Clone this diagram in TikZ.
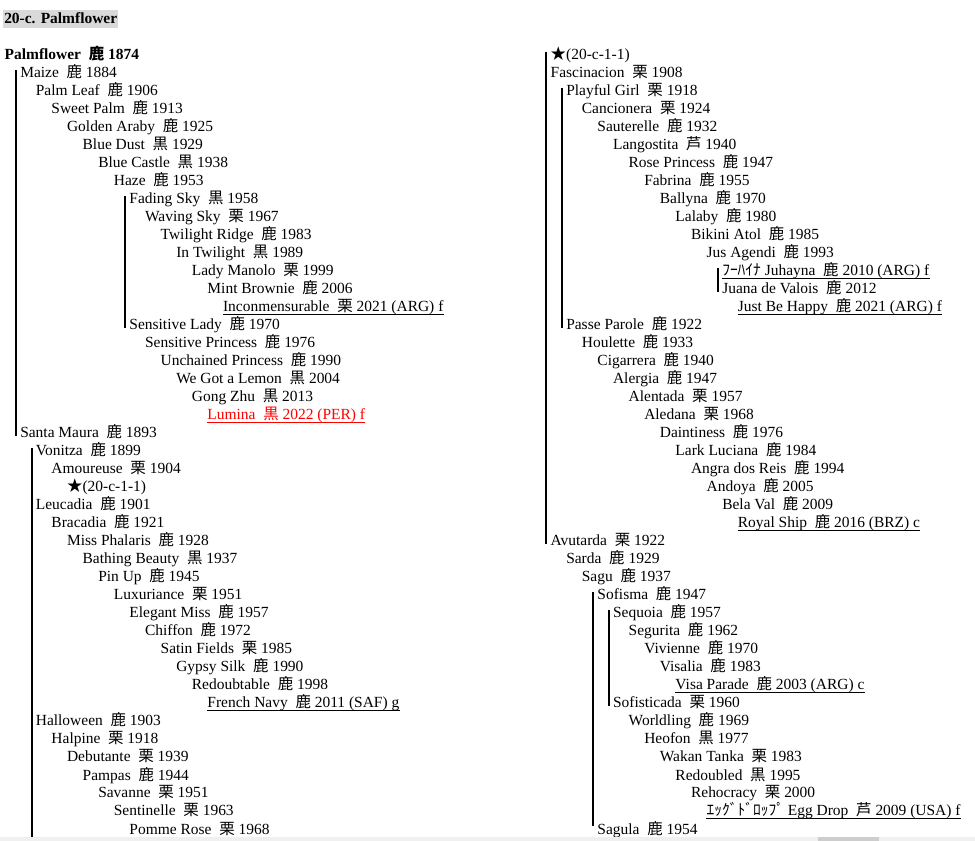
\documentclass[tikz,border=0pt]{standalone}
\usepackage{fontspec}
\setmainfont{Liberation Serif}
\newfontfamily\cjk{Noto Sans CJK JP}
\usepackage{tikz}
\newcommand{\kan}[1]{{\cjk #1}}
\definecolor{titlegray}{RGB}{217,217,217}
\definecolor{barlight}{RGB}{240,240,240}
\definecolor{bardark}{RGB}{205,205,205}

\begin{document}
\begin{tikzpicture}[x=11.7pt,y=-13.5pt,
	horse/.style={anchor=base west,inner sep=0pt,font=\fontsize{11.6}{14}\selectfont},
	bold/.style={horse,font=\fontsize{11.6}{14}\selectfont\bfseries},
	bar/.style={line width=1.5pt},
	uline/.style={line width=0.75pt},
	bartop/.style={shift={(-0.26,-0.45)}},
	barbot/.style={shift={(-0.26,-0.1)}}]
	\useasboundingbox (-0.282,-3.333) rectangle (62.218,43.389);
	% title
	\node[bold,fill=titlegray,inner xsep=0.75pt,inner ysep=0.75pt,text height=9.5pt,text depth=2.5pt] (title) at (-0.09,-2) {20-c. Palmflower};
	% left column
	\node[bold] (palmflower) at (0,0) {Palmflower~~\kan{鹿} 1874};
	\node[horse] (maize) at (1,1) {Maize~~\kan{鹿} 1884};
	\node[horse] (palmleaf) at (2,2) {Palm Leaf~~\kan{鹿} 1906};
	\node[horse] (sweetpalm) at (3,3) {Sweet Palm~~\kan{鹿} 1913};
	\node[horse] (goldenaraby) at (4,4) {Golden Araby~~\kan{鹿} 1925};
	\node[horse] (bluedust) at (5,5) {Blue Dust~~\kan{黒} 1929};
	\node[horse] (bluecastle) at (6,6) {Blue Castle~~\kan{黒} 1938};
	\node[horse] (haze) at (7,7) {Haze~~\kan{鹿} 1953};
	\node[horse] (fadingsky) at (8,8) {Fading Sky~~\kan{黒} 1958};
	\node[horse] (wavingsky) at (9,9) {Waving Sky~~\kan{栗} 1967};
	\node[horse] (twilightridge) at (10,10) {Twilight Ridge~~\kan{鹿} 1983};
	\node[horse] (intwilight) at (11,11) {In Twilight~~\kan{黒} 1989};
	\node[horse] (ladymanolo) at (12,12) {Lady Manolo~~\kan{栗} 1999};
	\node[horse] (mintbrownie) at (13,13) {Mint Brownie~~\kan{鹿} 2006};
	\node[horse] (incon) at (14,14) {Inconmensurable~~\kan{栗} 2021 (ARG) f};
	\node[horse] (sensitivelady) at (8,15) {Sensitive Lady~~\kan{鹿} 1970};
	\node[horse] (sensitiveprincess) at (9,16) {Sensitive Princess~~\kan{鹿} 1976};
	\node[horse] (unchained) at (10,17) {Unchained Princess~~\kan{鹿} 1990};
	\node[horse] (wegotalemon) at (11,18) {We Got a Lemon~~\kan{黒} 2004};
	\node[horse] (gongzhu) at (12,19) {Gong Zhu~~\kan{黒} 2013};
	\node[horse,text=red] (lumina) at (13,20) {Lumina~~\kan{黒} 2022 (PER) f};
	\node[horse] (santamaura) at (1,21) {Santa Maura~~\kan{鹿} 1893};
	\node[horse] (vonitza) at (2,22) {Vonitza~~\kan{鹿} 1899};
	\node[horse] (amoureuse) at (3,23) {Amoureuse~~\kan{栗} 1904};
	\node[horse] (starleft) at (4,24) {\kan{★}(20-c-1-1)};
	\node[horse] (leucadia) at (2,25) {Leucadia~~\kan{鹿} 1901};
	\node[horse] (bracadia) at (3,26) {Bracadia~~\kan{鹿} 1921};
	\node[horse] (missphalaris) at (4,27) {Miss Phalaris~~\kan{鹿} 1928};
	\node[horse] (bathingbeauty) at (5,28) {Bathing Beauty~~\kan{黒} 1937};
	\node[horse] (pinup) at (6,29) {Pin Up~~\kan{鹿} 1945};
	\node[horse] (luxuriance) at (7,30) {Luxuriance~~\kan{栗} 1951};
	\node[horse] (elegantmiss) at (8,31) {Elegant Miss~~\kan{鹿} 1957};
	\node[horse] (chiffon) at (9,32) {Chiffon~~\kan{鹿} 1972};
	\node[horse] (satinfields) at (10,33) {Satin Fields~~\kan{栗} 1985};
	\node[horse] (gypsysilk) at (11,34) {Gypsy Silk~~\kan{鹿} 1990};
	\node[horse] (redoubtable) at (12,35) {Redoubtable~~\kan{鹿} 1998};
	\node[horse] (frenchnavy) at (13,36) {French Navy~~\kan{鹿} 2011 (SAF) g};
	\node[horse] (halloween) at (2,37) {Halloween~~\kan{鹿} 1903};
	\node[horse] (halpine) at (3,38) {Halpine~~\kan{栗} 1918};
	\node[horse] (debutante) at (4,39) {Debutante~~\kan{栗} 1939};
	\node[horse] (pampas) at (5,40) {Pampas~~\kan{鹿} 1944};
	\node[horse] (savanne) at (6,41) {Savanne~~\kan{栗} 1951};
	\node[horse] (sentinelle) at (7,42) {Sentinelle~~\kan{栗} 1963};
	\node[horse] (pommerose) at (8,43) {Pomme Rose~~\kan{栗} 1968};
	\coordinate (leftend) at (2,43.389);
	% right column
	\node[horse] (starright) at (35,0) {\kan{★}(20-c-1-1)};
	\node[horse] (fascinacion) at (35,1) {Fascinacion~~\kan{栗} 1908};
	\node[horse] (playfulgirl) at (36,2) {Playful Girl~~\kan{栗} 1918};
	\node[horse] (cancionera) at (37,3) {Cancionera~~\kan{栗} 1924};
	\node[horse] (sauterelle) at (38,4) {Sauterelle~~\kan{鹿} 1932};
	\node[horse] (langostita) at (39,5) {Langostita~~\kan{芦} 1940};
	\node[horse] (roseprincess) at (40,6) {Rose Princess~~\kan{鹿} 1947};
	\node[horse] (fabrina) at (41,7) {Fabrina~~\kan{鹿} 1955};
	\node[horse] (ballyna) at (42,8) {Ballyna~~\kan{鹿} 1970};
	\node[horse] (lalaby) at (43,9) {Lalaby~~\kan{鹿} 1980};
	\node[horse] (bikiniatol) at (44,10) {Bikini Atol~~\kan{鹿} 1985};
	\node[horse] (jusagendi) at (45,11) {Jus Agendi~~\kan{鹿} 1993};
	\node[horse] (juhayna) at (46,12) {\kan{ﾌｰﾊｲﾅ} Juhayna~~\kan{鹿} 2010 (ARG) f};
	\node[horse] (juana) at (46,13) {Juana de Valois~~\kan{鹿} 2012};
	\node[horse] (justbehappy) at (47,14) {Just Be Happy~~\kan{鹿} 2021 (ARG) f};
	\node[horse] (passeparole) at (36,15) {Passe Parole~~\kan{鹿} 1922};
	\node[horse] (houlette) at (37,16) {Houlette~~\kan{鹿} 1933};
	\node[horse] (cigarrera) at (38,17) {Cigarrera~~\kan{鹿} 1940};
	\node[horse] (alergia) at (39,18) {Alergia~~\kan{鹿} 1947};
	\node[horse] (alentada) at (40,19) {Alentada~~\kan{栗} 1957};
	\node[horse] (aledana) at (41,20) {Aledana~~\kan{栗} 1968};
	\node[horse] (daintiness) at (42,21) {Daintiness~~\kan{鹿} 1976};
	\node[horse] (larkluciana) at (43,22) {Lark Luciana~~\kan{鹿} 1984};
	\node[horse] (angra) at (44,23) {Angra dos Reis~~\kan{鹿} 1994};
	\node[horse] (andoya) at (45,24) {Andoya~~\kan{鹿} 2005};
	\node[horse] (belaval) at (46,25) {Bela Val~~\kan{鹿} 2009};
	\node[horse] (royalship) at (47,26) {Royal Ship~~\kan{鹿} 2016 (BRZ) c};
	\node[horse] (avutarda) at (35,27) {Avutarda~~\kan{栗} 1922};
	\node[horse] (sarda) at (36,28) {Sarda~~\kan{鹿} 1929};
	\node[horse] (sagu) at (37,29) {Sagu~~\kan{鹿} 1937};
	\node[horse] (sofisma) at (38,30) {Sofisma~~\kan{鹿} 1947};
	\node[horse] (sequoia) at (39,31) {Sequoia~~\kan{鹿} 1957};
	\node[horse] (segurita) at (40,32) {Segurita~~\kan{鹿} 1962};
	\node[horse] (vivienne) at (41,33) {Vivienne~~\kan{鹿} 1970};
	\node[horse] (visalia) at (42,34) {Visalia~~\kan{鹿} 1983};
	\node[horse] (visaparade) at (43,35) {Visa Parade~~\kan{鹿} 2003 (ARG) c};
	\node[horse] (sofisticada) at (39,36) {Sofisticada~~\kan{栗} 1960};
	\node[horse] (worldling) at (40,37) {Worldling~~\kan{鹿} 1969};
	\node[horse] (heofon) at (41,38) {Heofon~~\kan{黒} 1977};
	\node[horse] (wakantanka) at (42,39) {Wakan Tanka~~\kan{栗} 1983};
	\node[horse] (redoubled) at (43,40) {Redoubled~~\kan{黒} 1995};
	\node[horse] (rehocracy) at (44,41) {Rehocracy~~\kan{栗} 2000};
	\node[horse] (eggdrop) at (45,42) {\kan{ｴｯｸﾞﾄﾞﾛｯﾌﾟ} Egg Drop~~\kan{芦} 2009 (USA) f};
	\node[horse] (sagula) at (38,43) {Sagula~~\kan{鹿} 1954};
	% bars
	\draw[bar] ([bartop]maize.base west) -- ([barbot]santamaura.base west);
	\draw[bar] ([bartop]fadingsky.base west) -- ([barbot]sensitivelady.base west);
	\draw[bar] ([bartop]vonitza.base west) -- ([shift={(-0.26,0)}]leftend);
	\draw[bar] ([bartop]starright.base west) -- ([barbot]avutarda.base west);
	\draw[bar] ([bartop]playfulgirl.base west) -- ([barbot]passeparole.base west);
	\draw[bar] ([bartop]juhayna.base west) -- ([barbot]juana.base west);
	\draw[bar] ([bartop]sofisma.base west) -- ([shift={(0,-0.35)}, barbot]sagula.base west);
	\draw[bar] ([bartop]sequoia.base west) -- ([barbot]sofisticada.base west);
	% underlines
	\draw[uline] ([yshift=-2pt]incon.base west) -- ([yshift=-2pt]incon.base east);
	\draw[uline,red] ([yshift=-2pt]lumina.base west) -- ([yshift=-2pt]lumina.base east);
	\draw[uline] ([yshift=-2pt]frenchnavy.base west) -- ([yshift=-2pt]frenchnavy.base east);
	\draw[uline] ([yshift=-2pt]juhayna.base west) -- ([yshift=-2pt]juhayna.base east);
	\draw[uline] ([yshift=-2pt]justbehappy.base west) -- ([yshift=-2pt]justbehappy.base east);
	\draw[uline] ([yshift=-2pt]royalship.base west) -- ([yshift=-2pt]royalship.base east);
	\draw[uline] ([yshift=-2pt]visaparade.base west) -- ([yshift=-2pt]visaparade.base east);
	\draw[uline] ([yshift=-2pt]eggdrop.base west) -- ([yshift=-2pt]eggdrop.base east);
	% window edge
	\fill[barlight] (-0.282,43.15) rectangle (62.218,43.389);
	\fill[bardark] (52.15,43.15) rectangle (56.06,43.389);
\end{tikzpicture}
\end{document}
